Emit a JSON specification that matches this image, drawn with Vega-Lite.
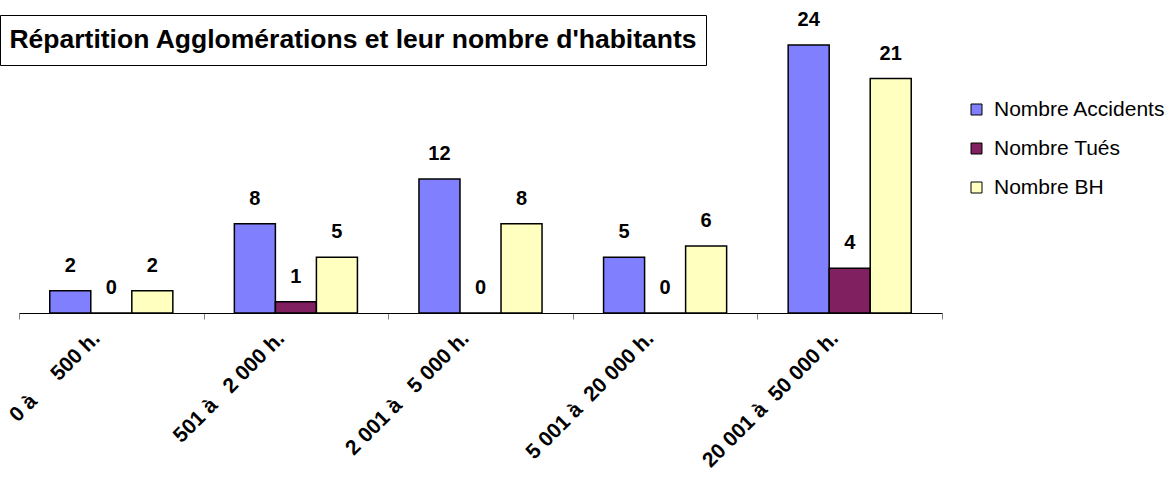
{
  "$schema": "https://vega.github.io/schema/vega-lite/v6.json",
  "padding": {"left": -8, "top": 10, "right": 2, "bottom": 2},
  "background": "white",
  "bounds": "flush",
  "spacing": 0,
  "config": {
    "font": "Liberation Sans",
    "view": {"stroke": null},
    "legend": {
      "title": null,
      "symbolType": "square",
      "symbolSize": 121,
      "symbolStrokeColor": "black",
      "symbolStrokeWidth": 1,
      "labelFontSize": 21,
      "labelFont": "Liberation Sans",
      "labelColor": "black",
      "labelLimit": 0,
      "rowPadding": 17,
      "labelOffset": 7
    }
  },
  "datasets": {
    "main": [
      {"cat": "0 à\u00a0\u00a0\u00a0\u00a0 500 h.", "serie": "Nombre Accidents", "value": 2},
      {"cat": "0 à\u00a0\u00a0\u00a0\u00a0 500 h.", "serie": "Nombre Tués", "value": 0},
      {"cat": "0 à\u00a0\u00a0\u00a0\u00a0 500 h.", "serie": "Nombre BH", "value": 2},
      {"cat": "501 à\u00a0\u00a0 2 000 h.", "serie": "Nombre Accidents", "value": 8},
      {"cat": "501 à\u00a0\u00a0 2 000 h.", "serie": "Nombre Tués", "value": 1},
      {"cat": "501 à\u00a0\u00a0 2 000 h.", "serie": "Nombre BH", "value": 5},
      {"cat": "2 001 à\u00a0\u00a0 5 000 h.", "serie": "Nombre Accidents", "value": 12},
      {"cat": "2 001 à\u00a0\u00a0 5 000 h.", "serie": "Nombre Tués", "value": 0},
      {"cat": "2 001 à\u00a0\u00a0 5 000 h.", "serie": "Nombre BH", "value": 8},
      {"cat": "5 001 à\u00a0 20 000 h.", "serie": "Nombre Accidents", "value": 5},
      {"cat": "5 001 à\u00a0 20 000 h.", "serie": "Nombre Tués", "value": 0},
      {"cat": "5 001 à\u00a0 20 000 h.", "serie": "Nombre BH", "value": 6},
      {"cat": "20 001 à\u00a0 50 000 h.", "serie": "Nombre Accidents", "value": 24},
      {"cat": "20 001 à\u00a0 50 000 h.", "serie": "Nombre Tués", "value": 4},
      {"cat": "20 001 à\u00a0 50 000 h.", "serie": "Nombre BH", "value": 21}
    ],
    "title": [{"t": "Répartition Agglomérations et leur nombre d'habitants"}]
  },
  "vconcat": [
    {
      "width": 706,
      "height": 50,
      "view": {"stroke": "black", "strokeWidth": 1, "fill": "white"},
      "data": {"name": "title"},
      "mark": {"type": "text", "font": "Liberation Sans", "fontWeight": "bold", "fontSize": 26.5, "align": "center", "baseline": "middle", "color": "black"},
      "encoding": {"text": {"field": "t", "type": "nominal"}}
    },
    {
      "width": 942,
      "height": 248,
      "view": {"stroke": null},
      "data": {"name": "main"},
      "encoding": {
        "x": {
          "field": "cat",
          "type": "nominal",
          "sort": null,
          "scale": {"range": [19, 942], "paddingInner": 0, "paddingOuter": 0},
          "axis": {
            "title": null,
            "labelAngle": -45,
            "labelAlign": "right",
            "labelBaseline": "middle",
            "labelFontSize": 21,
            "labelFontWeight": "bold",
            "labelColor": "black",
            "labelPadding": 16,
            "labelOffset": -15,
            "labelLimit": 0,
            "tickBand": "extent",
            "tickSize": 6,
            "tickColor": "#808080",
            "domainColor": "black",
            "domainWidth": 1
          }
        },
        "xOffset": {
          "field": "serie",
          "type": "nominal",
          "sort": ["Nombre Accidents", "Nombre Tués", "Nombre BH"],
          "scale": {"paddingInner": 0, "paddingOuter": 0.75}
        },
        "y": {
          "field": "value",
          "type": "quantitative",
          "scale": {"domain": [0, 24], "range": [248, -20], "nice": false},
          "axis": null
        }
      },
      "layer": [
        {
          "mark": {"type": "bar", "stroke": "black", "strokeWidth": 1.5},
          "encoding": {
            "color": {
              "field": "serie",
              "type": "nominal",
              "sort": ["Nombre Accidents", "Nombre Tués", "Nombre BH"],
              "scale": {"domain": ["Nombre Accidents", "Nombre Tués", "Nombre BH"], "range": ["#8080FF", "#802060", "#FFFFC0"]},
              "legend": {"orient": "none", "legendX": 966, "legendY": 84}
            }
          }
        },
        {
          "mark": {"type": "text", "baseline": "alphabetic", "dy": -19, "fontSize": 20, "fontWeight": "bold", "color": "black"},
          "encoding": {"text": {"field": "value", "type": "quantitative"}}
        }
      ]
    }
  ]
}
